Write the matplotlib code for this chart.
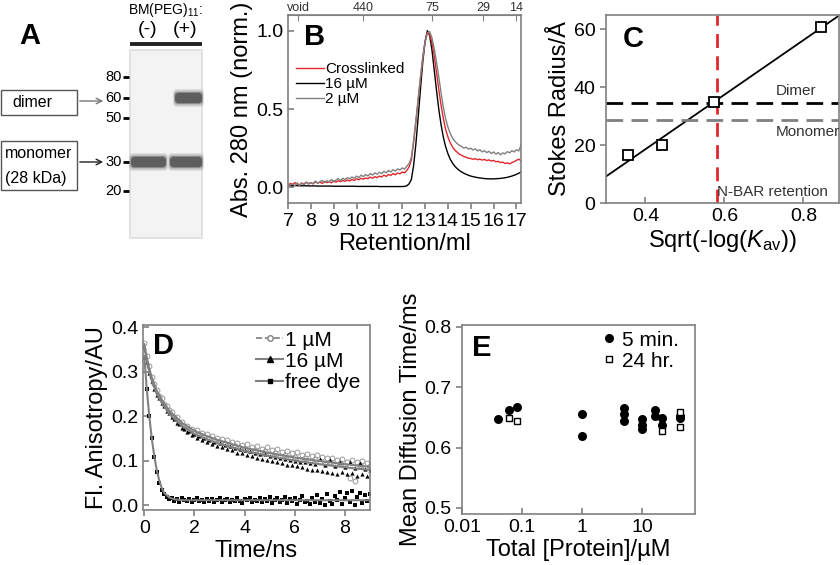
import numpy as np
import matplotlib.pyplot as plt
from matplotlib.patches import Rectangle, FancyBboxPatch
from matplotlib.lines import Line2D

plt.rcParams['font.family'] = ['Liberation Sans', 'DejaVu Sans']
plt.rcParams['mathtext.fontset'] = 'custom'
plt.rcParams['mathtext.rm'] = 'Liberation Sans'
plt.rcParams['mathtext.it'] = 'Liberation Sans:italic'

GRAY = '#808080'
RED = '#e3262b'

# ---------------- A: gel (schematic units) ----------------
ladder_kda = [80, 60, 50, 30, 20]
ladder_mig = [77, 98, 118, 162, 191]
lane_labels = ['(-)', '(+)']
band_lane = [0, 1, 1]
band_kda = [30, 30, 60]

# ---------------- B: size exclusion traces ----------------
ret_ml = np.round(np.arange(70, 173) / 10, 1)
abs_16uM = [0.012, 0.012, 0.011, 0.011, 0.011, 0.010, 0.010, 0.010, 0.010, 0.009,
            0.009, 0.009, 0.009, 0.008, 0.008, 0.008, 0.008, 0.008, 0.008, 0.008,
            0.007, 0.007, 0.007, 0.007, 0.007, 0.007, 0.007, 0.007, 0.007, 0.007,
            0.006, 0.006, 0.006, 0.006, 0.006, 0.006, 0.006, 0.006, 0.006, 0.006,
            0.005, 0.005, 0.005, 0.005, 0.005, 0.005, 0.005, 0.005, 0.005, 0.005,
            0.005, 0.006, 0.010, 0.022, 0.050, 0.140, 0.280, 0.450, 0.630, 0.800,
            0.930, 1.000, 0.970, 0.880, 0.750, 0.620, 0.500, 0.400, 0.320, 0.260,
            0.215, 0.180, 0.155, 0.135, 0.120, 0.108, 0.098, 0.090, 0.083, 0.077,
            0.072, 0.068, 0.065, 0.062, 0.060, 0.058, 0.056, 0.055, 0.054, 0.054,
            0.054, 0.055, 0.056, 0.057, 0.059, 0.061, 0.064, 0.068, 0.072, 0.077,
            0.083, 0.090, 0.097]
abs_xl = [0.010, 0.025, 0.018, 0.030, 0.022, 0.015, 0.028, 0.020, 0.032, 0.024,
          0.030, 0.022, 0.035, 0.027, 0.033, 0.025, 0.038, 0.030, 0.036, 0.029,
          0.040, 0.033, 0.042, 0.036, 0.045, 0.038, 0.047, 0.041, 0.050, 0.044,
          0.055, 0.048, 0.058, 0.052, 0.060, 0.055, 0.065, 0.058, 0.068, 0.062,
          0.072, 0.066, 0.078, 0.070, 0.082, 0.076, 0.088, 0.080, 0.092, 0.086,
          0.098, 0.092, 0.108, 0.130, 0.175, 0.290, 0.420, 0.560, 0.700, 0.830,
          0.930, 0.990, 0.975, 0.925, 0.840, 0.735, 0.625, 0.525, 0.440, 0.370,
          0.322, 0.285, 0.258, 0.238, 0.225, 0.212, 0.205, 0.196, 0.192, 0.186,
          0.184, 0.179, 0.183, 0.176, 0.180, 0.174, 0.178, 0.171, 0.175, 0.168,
          0.172, 0.163, 0.166, 0.158, 0.161, 0.152, 0.156, 0.150, 0.158, 0.164,
          0.172, 0.180, 0.170]
abs_2uM = [0.002, 0.015, 0.022, 0.010, 0.028, 0.012, 0.025, 0.018, 0.034, 0.020,
           0.030, 0.024, 0.040, 0.026, 0.036, 0.044, 0.030, 0.042, 0.036, 0.050,
           0.038, 0.046, 0.056, 0.042, 0.058, 0.050, 0.062, 0.054, 0.066, 0.058,
           0.072, 0.062, 0.078, 0.068, 0.082, 0.072, 0.088, 0.078, 0.092, 0.084,
           0.096, 0.088, 0.102, 0.092, 0.108, 0.098, 0.112, 0.104, 0.118, 0.110,
           0.124, 0.116, 0.135, 0.150, 0.190, 0.300, 0.430, 0.565, 0.700, 0.825,
           0.925, 0.985, 0.995, 0.955, 0.885, 0.800, 0.705, 0.605, 0.510, 0.438,
           0.385, 0.345, 0.315, 0.295, 0.280, 0.268, 0.262, 0.250, 0.256, 0.244,
           0.250, 0.238, 0.246, 0.232, 0.240, 0.226, 0.234, 0.222, 0.230, 0.216,
           0.226, 0.212, 0.222, 0.208, 0.220, 0.214, 0.228, 0.220, 0.234, 0.226,
           0.240, 0.232, 0.268]
std_pos = [7.44, 10.3, 13.3, 15.55, 17.0]
std_labels = ['void', '440', '75', '29', '14']

# ---------------- C: calibration ----------------
kav_sqrt = [0.355, 0.443, 0.573, 0.845]
stokes_A = [16.5, 20.0, 35.0, 61.0]
nbar_ret = 0.58
dimer_A = 34.5
monomer_A = 28.7

# ---------------- D: anisotropy decays ----------------
t_ns = np.round(np.arange(0, 91) * 0.1, 1)
aniso_1uM = [0.365, 0.335, 0.312, 0.288, 0.272, 0.259, 0.246, 0.240, 0.228, 0.222,
             0.213, 0.209, 0.199, 0.197, 0.186, 0.187, 0.179, 0.178, 0.170, 0.172,
             0.165, 0.168, 0.158, 0.163, 0.153, 0.160, 0.150, 0.155, 0.146, 0.152,
             0.141, 0.149, 0.139, 0.146, 0.135, 0.143, 0.133, 0.140, 0.128, 0.136,
             0.127, 0.138, 0.122, 0.131, 0.124, 0.133, 0.118, 0.127, 0.121, 0.131,
             0.114, 0.124, 0.118, 0.126, 0.110, 0.120, 0.113, 0.122, 0.106, 0.117,
             0.109, 0.119, 0.102, 0.113, 0.106, 0.116, 0.099, 0.110, 0.103, 0.112,
             0.097, 0.108, 0.093, 0.105, 0.098, 0.107, 0.091, 0.102, 0.095, 0.104,
             0.088, 0.098, 0.062, 0.101, 0.055, 0.097, 0.090, 0.100, 0.084, 0.094,
             0.088]
aniso_16uM = [0.355, 0.322, 0.296, 0.278, 0.262, 0.248, 0.240, 0.229, 0.222, 0.212,
              0.206, 0.198, 0.194, 0.185, 0.182, 0.174, 0.172, 0.165, 0.166, 0.158,
              0.160, 0.152, 0.155, 0.147, 0.150, 0.142, 0.146, 0.138, 0.143, 0.134,
              0.139, 0.130, 0.136, 0.127, 0.133, 0.124, 0.129, 0.118, 0.126, 0.117,
              0.124, 0.112, 0.121, 0.110, 0.118, 0.107, 0.116, 0.104, 0.114, 0.101,
              0.111, 0.099, 0.109, 0.097, 0.107, 0.095, 0.104, 0.091, 0.102, 0.090,
              0.100, 0.087, 0.098, 0.085, 0.096, 0.082, 0.094, 0.080, 0.092, 0.078,
              0.104, 0.077, 0.090, 0.074, 0.101, 0.073, 0.088, 0.070, 0.098, 0.075,
              0.086, 0.069, 0.096, 0.072, 0.084, 0.066, 0.094, 0.070, 0.082, 0.065,
              0.078]
aniso_dye = [0.330, 0.260, 0.200, 0.150, 0.108, 0.075, 0.050, 0.033, 0.024, 0.018,
             0.014, 0.016, 0.010, 0.013, 0.008, 0.015, 0.011, 0.009, 0.014, 0.007,
             0.012, 0.015, 0.009, 0.011, 0.006, 0.014, 0.010, 0.013, 0.007, 0.012,
             0.016, 0.008, 0.011, 0.014, 0.006, 0.012, 0.009, 0.015, 0.010, 0.005,
             0.013, 0.011, 0.017, 0.007, 0.012, 0.009, 0.016, 0.006, 0.013, 0.010,
             0.018, 0.004, 0.012, 0.015, 0.007, 0.011, 0.019, 0.005, 0.013, 0.009,
             0.016, 0.003, 0.012, 0.021, 0.006, 0.010, 0.002, 0.017, 0.008, 0.023,
             0.004, 0.013, 0.001, 0.026, 0.009, 0.003, 0.020, 0.011, 0.030, 0.002,
             0.015, 0.028, 0.006, 0.032, 0.000, 0.019, 0.027, 0.004, 0.022, 0.010,
             0.025]
fit_t = [0, 0.1, 0.2, 0.3, 0.5, 0.7, 1, 1.5, 2, 2.5, 3, 4, 5, 6, 7, 8, 9]
fit_1uM = [0.362, 0.332, 0.307, 0.287, 0.257, 0.237, 0.212, 0.185, 0.167, 0.155,
           0.145, 0.129, 0.117, 0.107, 0.099, 0.092, 0.086]
fit_16uM = [0.356, 0.325, 0.300, 0.280, 0.250, 0.230, 0.205, 0.178, 0.160, 0.148,
            0.138, 0.122, 0.110, 0.100, 0.092, 0.085, 0.079]
fit_dye_t = [0, 0.1, 0.2, 0.3, 0.4, 0.5, 0.6, 0.7, 0.8, 1, 1.2, 1.5, 2, 3, 5, 9]
fit_dye = [0.335, 0.262, 0.200, 0.150, 0.110, 0.078, 0.055, 0.038, 0.027, 0.017,
           0.013, 0.011, 0.011, 0.011, 0.011, 0.011]

# ---------------- E: diffusion times ----------------
conc_5min = [0.04, 0.06, 0.083, 1, 1, 5, 5, 5, 10, 10, 10, 16, 16, 21, 21, 43, 43]
tau_5min = [0.648, 0.662, 0.667, 0.655, 0.619, 0.665, 0.655, 0.644, 0.648, 0.637,
            0.630, 0.663, 0.652, 0.649, 0.638, 0.653, 0.649]
conc_24h = [0.06, 0.083, 21, 43, 43]
tau_24h = [0.649, 0.644, 0.628, 0.659, 0.634]


def style(ax):
    for s in ax.spines.values():
        s.set_color(GRAY)
        s.set_linewidth(1.2)
    ax.tick_params(colors=GRAY, labelcolor='black', labelsize=14, width=1.2, length=4)


fig = plt.figure(figsize=(8.4, 5.65), dpi=100)

# ---- A
axA = fig.add_axes([0, 1 - 310 / 565, 230 / 840, 310 / 565])
axA.set_xlim(0, 230)
axA.set_ylim(310, 0)
axA.axis('off')
axA.add_patch(Rectangle((130, 50), 72, 188, color='#f3f3f3', lw=0))
axA.add_patch(Rectangle((130, 50), 72, 188, fill=False, ec='#e2e2e2', lw=1.5))
axA.plot([130, 202], [44, 44], color='#222', lw=2.8, solid_capstyle='butt')
lane_x = [(131, 166), (170, 202)]
for i, lab in enumerate(lane_labels):
    axA.text(sum(lane_x[i]) / 2 - 1, 30, lab, fontsize=14, ha='center', va='center')
axA.text(166, 10, 'BM(PEG)$_{11}$:', fontsize=10, ha='center', va='center')
for kda, y in zip(ladder_kda, ladder_mig):
    axA.plot([123, 129], [y, y], color='black', lw=2, solid_capstyle='butt')
    axA.text(122, y, str(kda), fontsize=10.5, ha='right', va='center')
for ln, kda in zip(band_lane, band_kda):
    y = ladder_mig[ladder_kda.index(kda)]
    x0, x1 = lane_x[ln]
    if kda == 60:
        x0 += 5
    for k, a in zip([4, 2.5, 1, 0], [0.12, 0.25, 0.45, 0.75]):
        axA.add_patch(FancyBboxPatch((x0 - k / 2, y - 5 - k), x1 - x0 + k, 10 + 2 * k,
                                     boxstyle='round,pad=0,rounding_size=4',
                                     color='#505050', alpha=a, lw=0))
axA.text(30, 36, 'A', fontsize=21, fontweight='bold', ha='center', va='center')
axA.add_patch(Rectangle((1, 90), 76, 25, fill=False, ec='#555', lw=1))
axA.text(12, 102.5, 'dimer', fontsize=11.5, va='center')
axA.add_patch(Rectangle((1, 141), 76, 49, fill=False, ec='#555', lw=1))
axA.text(5, 153, 'monomer', fontsize=11.5, va='center')
axA.text(5, 178, '(28 kDa)', fontsize=11.5, va='center')
axA.annotate('', xy=(106, 101), xytext=(77, 101),
             arrowprops=dict(arrowstyle='->', color='#777', lw=1))
axA.annotate('', xy=(106, 162), xytext=(77, 162),
             arrowprops=dict(arrowstyle='->', color='#222', lw=1))

# ---- B
axB = fig.add_axes([288 / 840, 1 - 203 / 565, 233 / 840, 188 / 565])
style(axB)
hk, = axB.plot(ret_ml, abs_16uM, color='black', lw=1)
hr, = axB.plot(ret_ml, abs_xl, color=RED, lw=1)
hg, = axB.plot(ret_ml, abs_2uM, color=GRAY, lw=1)
axB.set_xlim(7, 17.2)
axB.set_ylim(-0.1, 1.1)
axB.set_xticks(range(7, 18))
axB.set_yticks([0.0, 0.5, 1.0])
axB.set_yticklabels(['0.0', '0.5', '1.0'])
axB.tick_params(axis='y', direction='in')
axB.set_xlabel('Retention/ml', fontsize=17, labelpad=2)
axB.set_ylabel('Abs. 280 nm (norm.)', fontsize=17, labelpad=2)
top = axB.secondary_xaxis('top')
top.set_xticks(std_pos)
top.set_xticklabels(std_labels)
top.tick_params(direction='in', labelsize=9, colors=GRAY, labelcolor='#333', length=4, pad=1)
top.spines['top'].set_color(GRAY)
axB.legend([hr, hk, hg], ['Crosslinked', '16 µM', '2 µM'], loc='upper left',
           bbox_to_anchor=(0.01, 0.78), frameon=False, fontsize=11,
           handlelength=1.8, handletextpad=0.1, labelspacing=0.05, borderaxespad=0)
axB.text(0.07, 0.955, 'B', transform=axB.transAxes, fontsize=21, fontweight='bold',
         va='top', ha='left')

# ---- C
axC = fig.add_axes([606 / 840, 1 - 203 / 565, 233 / 840, 188 / 565])
style(axC)
slope, icpt = np.polyfit(kav_sqrt, stokes_A, 1)
xl = np.array([0.3, 0.89])
axC.plot(xl, slope * xl + icpt, color='black', lw=1.3)
axC.axhline(dimer_A, color='black', lw=2, dashes=(6, 3))
axC.axhline(monomer_A, color=GRAY, lw=2, dashes=(6, 3))
axC.axvline(nbar_ret, color=RED, lw=2, dashes=(5, 3))
axC.plot(kav_sqrt, stokes_A, 's', mfc='white', mec='black', ms=7, mew=1.3)
axC.set_xlim(0.3, 0.89)
axC.set_ylim(0, 65)
axC.set_xticks([0.4, 0.6, 0.8])
axC.set_yticks([0, 20, 40, 60])
axC.tick_params(axis='x', direction='in')
axC.set_xlabel(r'Sqrt(-log($\mathit{K}_{\rm av}$))', fontsize=17, labelpad=2)
axC.set_ylabel('Stokes Radius/Å', fontsize=17, labelpad=2)
axC.text(0.73, dimer_A + 1.8, 'Dimer', fontsize=11, color='#333', va='bottom')
axC.text(0.73, monomer_A - 1.8, 'Monomer', fontsize=11, color='#333', va='top')
axC.text(nbar_ret, 1.5, 'N-BAR retention', fontsize=11, color='#333', va='bottom')
axC.text(0.07, 0.945, 'C', transform=axC.transAxes, fontsize=21, fontweight='bold',
         va='top', ha='left')

# ---- D
axD = fig.add_axes([143 / 840, 1 - 510 / 565, 227 / 840, 185 / 565])
style(axD)
axD.plot(t_ns, aniso_1uM, 'o', mfc='none', mec='#999', ms=3.5, mew=0.7)
axD.plot(t_ns, aniso_16uM, '^', color='black', ms=3, mew=0)
axD.plot(t_ns, aniso_dye, 's', color='black', ms=2.2, mew=0)
axD.plot(fit_t, fit_1uM, color=GRAY, lw=1.5)
axD.plot(fit_t, fit_16uM, color=GRAY, lw=1.5)
axD.plot(fit_dye_t, fit_dye, color=GRAY, lw=1.5)
axD.set_xlim(-0.05, 9)
axD.set_ylim(-0.011, 0.405)
axD.set_xticks([0, 2, 4, 6, 8])
axD.set_yticks([0.0, 0.1, 0.2, 0.3, 0.4])
axD.set_yticklabels(['0.0', '0.1', '0.2', '0.3', '0.4'])
axD.tick_params(axis='y', direction='in')
axD.set_xlabel('Time/ns', fontsize=17, labelpad=2)
axD.set_ylabel('Fl. Anisotropy/AU', fontsize=17, labelpad=2)
hD = [Line2D([], [], color=GRAY, ls='--', lw=1.2, marker='o', mfc='white', mec=GRAY, ms=4),
      Line2D([], [], color=GRAY, lw=1.5, marker='^', mfc='black', mec='black', ms=4),
      Line2D([], [], color=GRAY, lw=1.5, marker='s', mfc='black', mec='black', ms=3)]
axD.legend(hD, ['1 µM', '16 µM', 'free dye'], loc='upper right', frameon=False,
           fontsize=15, handlelength=1.3, handletextpad=0.1, labelspacing=0.1,
           borderaxespad=0.05, bbox_to_anchor=(1.0, 1.02))
axD.text(0.045, 0.96, 'D', transform=axD.transAxes, fontsize=21, fontweight='bold',
         va='top', ha='left')

# ---- E
axE = fig.add_axes([462 / 840, 1 - 514 / 565, 233 / 840, 189 / 565])
style(axE)
h5, = axE.plot(conc_5min, tau_5min, 'o', color='black', ms=6.5, mew=0)
h24, = axE.plot(conc_24h, tau_24h, 's', mfc='white', mec='black', ms=4.5, mew=1)
axE.set_xscale('log')
axE.set_xlim(0.01, 75)
axE.set_ylim(0.49, 0.803)
axE.set_xticks([0.01, 0.1, 1, 10])
axE.set_xticklabels(['0.01', '0.1', '1', '10'])
axE.minorticks_off()
axE.set_yticks([0.5, 0.6, 0.7, 0.8])
axE.tick_params(axis='x', direction='in')
axE.set_xlabel('Total [Protein]/µM', fontsize=17, labelpad=2)
axE.set_ylabel('Mean Diffusion Time/ms', fontsize=17, labelpad=2)
axE.legend([h5, h24], ['5 min.', '24 hr.'], loc='upper right', frameon=False,
           fontsize=15, handlelength=0.6, handletextpad=0.3, labelspacing=0.1,
           borderaxespad=0.05, bbox_to_anchor=(0.97, 1.02))
axE.text(0.043, 0.95, 'E', transform=axE.transAxes, fontsize=21, fontweight='bold',
         va='top', ha='left')

fig.savefig('out.png', dpi=100)
